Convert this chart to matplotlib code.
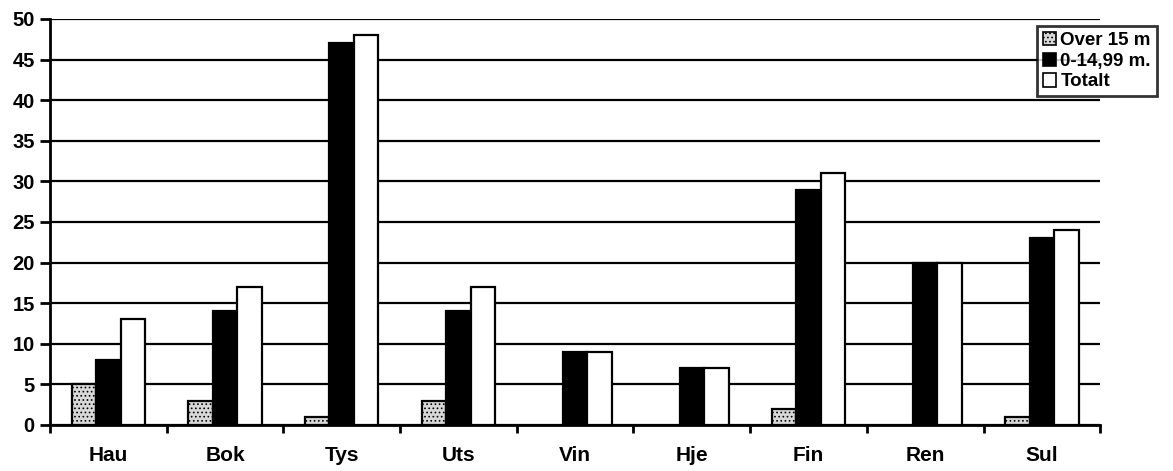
import matplotlib
matplotlib.use("Agg")
import matplotlib.pyplot as plt
import numpy as np

categories = ["Hau", "Bok", "Tys", "Uts", "Vin", "Hje", "Fin", "Ren", "Sul"]
over15 = [5, 3, 1, 3, 0, 0, 2, 0, 1]
under15 = [8, 14, 47, 14, 9, 7, 29, 20, 23]
totalt = [13, 17, 48, 17, 9, 7, 31, 20, 24]
series_names = ["Over 15 m", "0-14,99 m.", "Totalt"]
yticks = [0, 5, 10, 15, 20, 25, 30, 35, 40, 45, 50]

plt.rcParams['font.family'] = ['Liberation Sans', 'DejaVu Sans']
plt.rcParams['hatch.linewidth'] = 0.7
plt.rcParams['hatch.color'] = '#555555'

fig = plt.figure(figsize=(11.73, 4.71), dpi=100)
ax = fig.add_axes([0.0426, 0.0977, 0.8954, 0.862])

x = np.arange(len(categories))
w = 0.21
kw = dict(edgecolor='black', linewidth=1.6, zorder=3)
o15 = np.array(over15, dtype=float)
o15_lw = [1.6 if v > 0 else 0 for v in over15]
ax.bar(x - w, o15, w, facecolor='#d8d8d8', hatch='....', label=series_names[0],
       edgecolor='black', linewidth=o15_lw, zorder=3)
ax.bar(x, under15, w, facecolor='black', label=series_names[1], **kw)
ax.bar(x + w, totalt, w, facecolor='white', label=series_names[2], **kw)

ax.set_xlim(-0.5, len(categories) - 0.5)
ax.set_ylim(0, 50)
ax.set_yticks(yticks)
ax.yaxis.grid(True, color='black', linewidth=1.6, zorder=0)
ax.set_axisbelow(True)

ax.set_xticks(x)
ax.set_xticklabels(categories, fontsize=15, fontweight='bold')
ax.set_xticks(np.arange(len(categories) + 1) - 0.5, minor=True)
ax.tick_params(axis='x', which='major', length=0, pad=15)
ax.tick_params(axis='x', which='minor', length=6, width=2, direction='out')
ax.tick_params(axis='y', length=7, width=2, direction='out', labelsize=14.5, pad=4)
for lbl in ax.get_yticklabels():
    lbl.set_fontweight('bold')

for s in ['top', 'right']:
    ax.spines[s].set_visible(False)
for s in ['left', 'bottom']:
    ax.spines[s].set_linewidth(2)
ax.spines['bottom'].set_zorder(4)

leg = ax.legend(loc='upper left', bbox_to_anchor=(1037 / 1173, 1 - 26 / 471),
                bbox_transform=fig.transFigure, frameon=True, fancybox=False,
                prop={'weight': 'bold', 'size': 13.5}, handlelength=0.7,
                handleheight=0.7, handletextpad=0.25, borderpad=0.3,
                labelspacing=0.2, borderaxespad=0)
leg.get_frame().set_edgecolor('black')
leg.get_frame().set_linewidth(2)
for h in leg.legend_handles:
    h.set_linewidth(1.2)

fig.savefig("out.png", dpi=100)
